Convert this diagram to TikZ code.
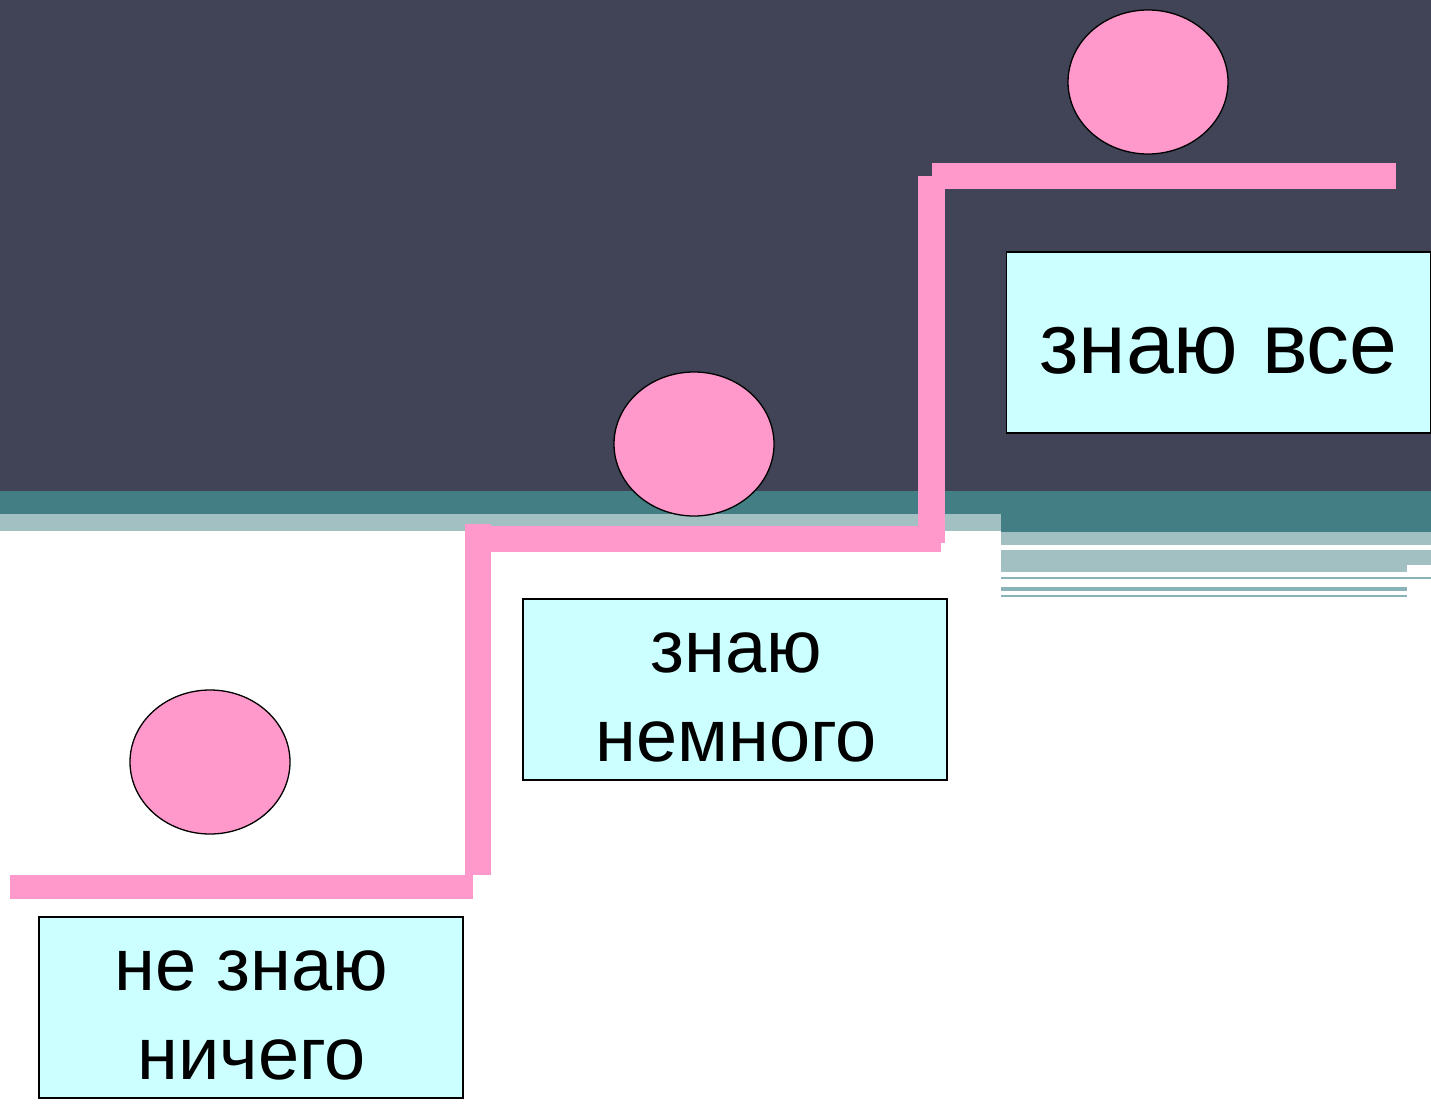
\documentclass[tikz,border=0pt]{standalone}
\usepackage{fontspec}
\setmainfont{Liberation Sans}
\usetikzlibrary{shapes.geometric}
\definecolor{bgdark}{HTML}{414356}
\definecolor{bandteal}{HTML}{427E84}
\definecolor{bandlite}{HTML}{A2BFC2}
\definecolor{bandline}{HTML}{8AB3B5}
\definecolor{steppink}{HTML}{FF99CC}
\definecolor{boxcyan}{HTML}{CCFFFF}
\tikzset{
  ball/.style={ellipse, draw=black, line width=1.3pt, fill=steppink, minimum width=160pt, minimum height=144pt, inner sep=0pt},
  labelbox/.style={rectangle, draw=black, line width=1.6pt, fill=boxcyan, minimum width=424pt, minimum height=181pt, inner sep=0pt},
  labeltext/.style={inner sep=0pt, align=center, text=black, font=\fontsize{74}{89}\selectfont},
  bigtext/.style={inner sep=0pt, text=black, font=\fontsize{86}{89}\selectfont},
  pinkbar/.style={fill=steppink}
}
\begin{document}
\begin{tikzpicture}[x=1pt,y=-1pt]
\useasboundingbox (0,0) rectangle (1431,1103);
% background
\fill[white] (0,0) rectangle (1431,1103);
\fill[bgdark] (0,0) rectangle (1431,491);
\fill[bandteal] (0,491) rectangle (1001,514);
\fill[bandteal] (1001,491) rectangle (1431,532);
\fill[bandlite] (0,514) rectangle (1001,531);
\fill[bandlite] (1001,532) rectangle (1431,545);
\fill[bandlite] (1001,550) rectangle (1431,565);
\fill[bandlite] (1001,565) rectangle (1407,572);
\fill[bandline] (1001,577) rectangle (1431,579);
\fill[bandline] (1001,587) rectangle (1407,591);
\fill[bandline] (1001,595) rectangle (1407,597);
% stairs
\fill[pinkbar] (10,875) rectangle (473,899);
\fill[pinkbar] (465,524) rectangle (491,875);
\fill[pinkbar] (491,526) rectangle (941,552);
\fill[pinkbar] (918,176) rectangle (945,543);
\fill[pinkbar] (932,163) rectangle (1396,189);
% balls
\node[ball] (c1) at (210,762) {};
\node[ball] (c2) at (694,444) {};
\node[ball] (c3) at (1148,82) {};
% boxes
\node[labelbox] (b1) at (251,1007.5) {};
\node[labelbox] (b2) at (735,689.5) {};
\node[labelbox] (b3) at (1218.5,342.5) {};
\node[labeltext] (t1) at (251.5,1015) {не знаю\\ничего};
\node[labeltext] (t2) at (736,697.5) {знаю\\немного};
\node[bigtext, anchor=base] (t3) at (1218.5,373) {знаю все};
\end{tikzpicture}
\end{document}
